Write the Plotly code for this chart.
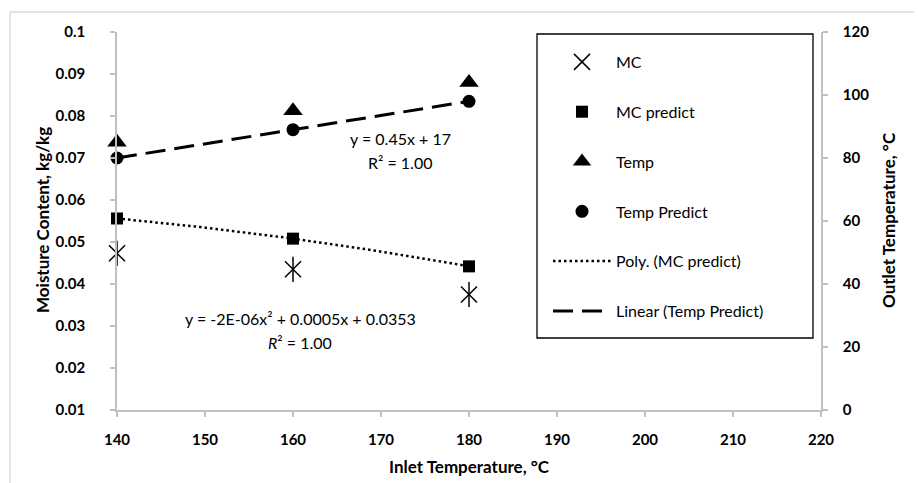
import numpy as np
import plotly.graph_objects as go

# ---- data ----
inlet_temp = [140, 160, 180]
mc = [0.0473, 0.0435, 0.0375]
mc_predict = [0.0556, 0.0508, 0.0442]
temp = [85, 95, 104]
temp_predict = [80, 89, 98]

x_ticks = [140, 150, 160, 170, 180, 190, 200, 210, 220]
y_tickvals = [0.01, 0.02, 0.03, 0.04, 0.05, 0.06, 0.07, 0.08, 0.09, 0.1]
y_ticktext = ["0.01", "0.02", "0.03", "0.04", "0.05", "0.06", "0.07", "0.08", "0.09", "0.1"]
y2_ticks = [0, 20, 40, 60, 80, 100, 120]

FONT = "Lato, 'Open Sans', sans-serif"
GRAY = "#bfbfbf"

# page body has an 8px margin: the figure starts at (8, 8) of the window
OFF = 8
W, H = 922 - OFF, 483 - OFF
# plot area in window pixels
PL, PR, PT, PB = 117, 821, 32, 410
L, T = PL - OFF, PT - OFF
R, B = W - (PR - OFF), H - (PB - OFF)
PW, PH = PR - PL, PB - PT


def px(x):
    return (x - PL) / PW


def py(y):
    return (PB - y) / PH


# trendlines computed from data
poly = np.polyfit(inlet_temp, mc_predict, 2)
xs = np.linspace(min(inlet_temp), max(inlet_temp), 60)
poly_y = np.polyval(poly, xs)
lin = np.polyfit(inlet_temp, temp_predict, 1)
xl = np.array([min(inlet_temp), max(inlet_temp)])
lin_y = np.polyval(lin, xl)

fig = go.Figure()

fig.add_trace(go.Scatter(
    x=inlet_temp, y=mc, mode="markers", name="MC", legendgroup="a",
    marker=dict(symbol="x-thin-open", size=16, color="black",
                line=dict(color="black", width=1.5)),
    cliponaxis=False))
fig.add_trace(go.Scatter(
    x=inlet_temp, y=mc, mode="markers", showlegend=False, hoverinfo="skip",
    legendgroup="a",
    marker=dict(symbol="line-ns-open", size=18, color="black",
                line=dict(color="black", width=1.5)),
    cliponaxis=False))
fig.add_trace(go.Scatter(
    x=inlet_temp, y=mc_predict, mode="markers", name="MC predict", legendgroup="b",
    marker=dict(symbol="square", size=12, color="black"), cliponaxis=False))
fig.add_trace(go.Scatter(
    x=inlet_temp, y=temp, mode="markers", name="Temp", legendgroup="c", yaxis="y2",
    marker=dict(symbol="triangle-up", size=17, color="black"), cliponaxis=False))
fig.add_trace(go.Scatter(
    x=inlet_temp, y=temp_predict, mode="markers", name="Temp Predict", legendgroup="d",
    yaxis="y2",
    marker=dict(symbol="circle", size=13, color="black"), cliponaxis=False))
fig.add_trace(go.Scatter(
    x=xs, y=poly_y, mode="lines", name="Poly. (MC predict)", legendgroup="e",
    line=dict(color="black", width=2.5, dash="2.5px,3px"), hoverinfo="skip"))
fig.add_trace(go.Scatter(
    x=xl, y=lin_y, mode="lines", name="Linear (Temp Predict)", legendgroup="f",
    yaxis="y2",
    line=dict(color="black", width=3, dash="20px,9px"), hoverinfo="skip"))

axis_common = dict(showgrid=False, zeroline=False, showline=True, linecolor=GRAY,
                   linewidth=1.5, ticks="outside", ticklen=5, tickcolor=GRAY,
                   tickwidth=1.5,
                   tickfont=dict(family=FONT, size=15, color="black", weight="bold"))

ann_font = dict(family=FONT, size=16, color="black")
title_font = dict(family=FONT, size=17, color="black", weight="bold")

fig.update_layout(
    width=W, height=H,
    margin=dict(l=L, r=R, t=T, b=B),
    paper_bgcolor="white", plot_bgcolor="white",
    font=dict(family=FONT, color="black"),
    xaxis=dict(range=[140, 220], tickvals=x_ticks, ticklabelstandoff=10, **axis_common),
    yaxis=dict(range=[0.01, 0.1], tickvals=y_tickvals, ticktext=y_ticktext,
               ticklabelstandoff=22, **axis_common),
    yaxis2=dict(range=[0, 120], tickvals=y2_ticks, overlaying="y", side="right",
                ticklabelstandoff=12, **axis_common),
    legend=dict(x=px(548), y=py(45), xanchor="left", yanchor="top",
                bgcolor="rgba(0,0,0,0)", borderwidth=0,
                font=dict(family=FONT, size=16, color="black"),
                itemwidth=58,
                tracegroupgap=26, traceorder="grouped"),
    shapes=[
        dict(type="rect", xref="paper", yref="paper", x0=px(537), x1=px(813),
             y0=py(338), y1=py(34), line=dict(color="black", width=1.3),
             fillcolor="white", layer="below"),
        dict(type="line", xref="paper", yref="paper", x0=px(10), x1=px(10),
             y0=py(12), y1=py(490), line=dict(color="#d9d9d9", width=1.3)),
        dict(type="line", xref="paper", yref="paper", x0=px(10), x1=px(930),
             y0=py(12), y1=py(12), line=dict(color="#d9d9d9", width=1.3)),
    ],
    annotations=[
        dict(text="y = 0.45x + 17", x=172.2, y=86.3, xref="x", yref="y2",
             xanchor="center", yanchor="middle", showarrow=False, font=ann_font),
        dict(text="R² = 1.00", x=172.2, y=78.7, xref="x", yref="y2",
             xanchor="center", yanchor="middle", showarrow=False, font=ann_font),
        dict(text="y = -2E-06x² + 0.0005x + 0.0353", x=160.8, y=0.0319, xref="x", yref="y",
             xanchor="center", yanchor="middle", showarrow=False, font=ann_font),
        dict(text="<i>R</i>² = 1.00", x=160.8, y=0.0260, xref="x", yref="y",
             xanchor="center", yanchor="middle", showarrow=False, font=ann_font),
        dict(text="Moisture Content, kg/kg", x=px(42), y=py(220), xref="paper", yref="paper",
             xanchor="center", yanchor="middle", textangle=-90, showarrow=False,
             font=title_font),
        dict(text="Outlet Temperature, °C", x=px(888), y=py(220), xref="paper", yref="paper",
             xanchor="center", yanchor="middle", textangle=-90, showarrow=False,
             font=title_font),
        dict(text="Inlet Temperature, °C", x=px(469), y=py(466), xref="paper", yref="paper",
             xanchor="center", yanchor="middle", showarrow=False, font=title_font),
    ],
)

fig.write_html("out.html")
